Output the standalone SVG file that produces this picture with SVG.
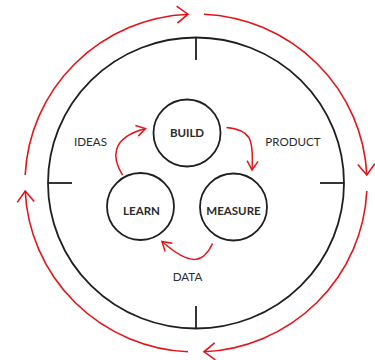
<svg xmlns="http://www.w3.org/2000/svg" width="375" height="360" viewBox="0 0 375 360">
  <style>
    .ring { fill: none; stroke: #1f1f1f; stroke-width: 1.8; }
    .tick { stroke: #1f1f1f; stroke-width: 1.8; }
    .node { fill: #ffffff; stroke: #1f1f1f; stroke-width: 1.8; }
    .cycle { fill: none; stroke: #e3151b; stroke-width: 1.6; }
    .step { fill: none; stroke: #e3151b; stroke-width: 1.5; }
    .name { font-family: Lato, "Open Sans", sans-serif; font-weight: 700; font-size: 11.5px; fill: #2b2b2b; text-anchor: middle; }
    .label { font-family: Lato, "Open Sans", sans-serif; font-weight: 400; font-size: 11.6px; fill: #2b2b2b; text-anchor: middle; }
  </style>
  <defs>
    <marker id="chevron-lg" markerUnits="userSpaceOnUse" markerWidth="30" markerHeight="30" refX="15" refY="15" orient="auto" viewBox="0 0 30 30">
      <path d="M4,6.5 L15,15 L4,23.5" fill="none" stroke="#e3151b" stroke-width="1.6"/>
    </marker>
    <marker id="chevron-sm" markerUnits="userSpaceOnUse" markerWidth="24" markerHeight="24" refX="12" refY="12" orient="auto" viewBox="0 0 24 24">
      <path d="M3,6.5 L12,12 L3,17.5" fill="none" stroke="#e3151b" stroke-width="1.5"/>
    </marker>
  </defs>

  <!-- outer clockwise cycle -->
  <g id="outer-cycle">
    <path class="cycle" d="M25.19,175 A171,169 0 0 1 188,14.19" marker-end="url(#chevron-lg)"/>
    <path class="cycle" d="M204,14.19 A171,169 0 0 1 366.81,175" marker-end="url(#chevron-lg)"/>
    <path class="cycle" d="M366.81,191 A171,169 0 0 1 204,351.81" marker-end="url(#chevron-lg)"/>
    <path class="cycle" d="M188,351.81 A171,169 0 0 1 25.19,191" marker-end="url(#chevron-lg)"/>
  </g>

  <!-- frame ring with quarter ticks -->
  <g id="frame">
    <ellipse class="ring" cx="196" cy="183" rx="148" ry="145.5"/>
    <line class="tick" x1="196" y1="37.5" x2="196" y2="60"/>
    <line class="tick" x1="196" y1="306" x2="196" y2="328.5"/>
    <line class="tick" x1="48" y1="183" x2="72" y2="183"/>
    <line class="tick" x1="320" y1="183" x2="344" y2="183"/>
  </g>

  <!-- connectors between the steps -->
  <g id="connectors">
    <path class="step" d="M122.5,175 C112,158 110,138 145.5,128.5" marker-end="url(#chevron-sm)"/>
    <path class="step" d="M226.5,127.5 C250,130 254,138 252,170" marker-end="url(#chevron-sm)"/>
    <path class="step" d="M212.5,243.5 C204,262 192,268 162,241.5" marker-end="url(#chevron-sm)"/>
  </g>

  <g id="build">
    <circle class="node" cx="187" cy="133" r="33.5"/>
    <text class="name" x="187" y="137">BUILD</text>
  </g>
  <g id="measure">
    <circle class="node" cx="233.5" cy="207" r="33.5"/>
    <text class="name" x="233.5" y="215">MEASURE</text>
  </g>
  <g id="learn">
    <circle class="node" cx="140.5" cy="206.5" r="33.5"/>
    <text class="name" x="141.5" y="214.5">LEARN</text>
  </g>

  <g id="labels">
    <text class="label" x="90.5" y="145.8">IDEAS</text>
    <text class="label" x="293" y="145.8">PRODUCT</text>
    <text class="label" x="187.5" y="280.7">DATA</text>
  </g>
</svg>
